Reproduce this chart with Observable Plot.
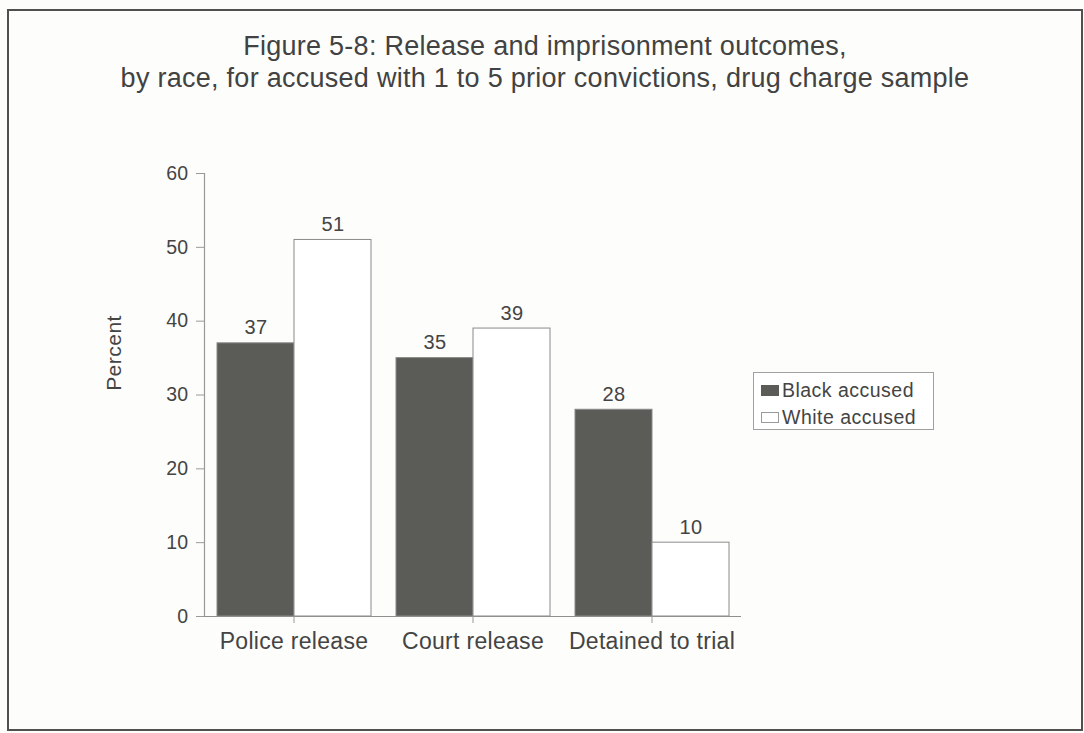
<!DOCTYPE html>
<html>
<head>
<meta charset="utf-8">
<script src="https://cdn.jsdelivr.net/npm/d3@7"></script>
<script src="https://cdn.jsdelivr.net/npm/@observablehq/plot@0.6"></script>
<style>
  html, body { margin: 0; padding: 0; background: #fdfdfb; }
  #wrap { position: relative; width: 1084px; height: 733px; background: #fdfdfb; overflow: hidden;
          font-family: "Liberation Sans", Arial, sans-serif; color: #444; letter-spacing: 0.03em; }
  #border { position: absolute; left: 7px; top: 9px; width: 1076px; height: 722px; box-sizing: border-box;
            border: 2px solid #505050; }
  #title { position: absolute; left: 8px; top: 30px; width: 1074px; text-align: center; font-size: 27px;
           line-height: 32px; color: #424242; letter-spacing: 0.01em; }
  #ylabel { position: absolute; left: 113px; top: 353px; transform: translate(-50%, -50%) rotate(-90deg);
            font-size: 21px; line-height: 1; white-space: nowrap; color: #444; }
  #legend { position: absolute; left: 753px; top: 372px; width: 181px; height: 58px; box-sizing: border-box;
            border: 1px solid #a0a0a0; background: #fff; font-size: 19.5px; color: #444; }
  .item { position: absolute; left: 7px; height: 22px; display: flex; align-items: center; white-space: nowrap; }
  .sw { width: 18px; height: 11px; box-sizing: border-box; margin-right: 3px; }
  #chart { position: absolute; left: 0; top: 100px; }
</style>
</head>
<body>
<div id="wrap">
  <div id="border"></div>
  <div id="title">Figure 5-8: Release and imprisonment outcomes,<br>by race, for accused with 1 to 5 prior convictions, drug charge sample</div>
  <div id="ylabel">Percent</div>
  <div id="chart"></div>
  <div id="legend"></div>
</div>
<script>
const categories = ["Police release", "Court release", "Detained to trial"];
const races = ["Black accused", "White accused"];
const blackValues = [37, 35, 28];
const whiteValues = [51, 39, 10];
const yTicks = [0, 10, 20, 30, 40, 50, 60];
const raceColors = ["#5b5b57", "#ffffff"];

const data = [];
categories.forEach((c, i) => {
  data.push({category: c, race: races[0], value: blackValues[i]});
  data.push({category: c, race: races[1], value: whiteValues[i]});
});

const chart = Plot.plot({
  width: 1084,
  height: 600,
  marginTop: 73,
  marginBottom: 84,
  marginLeft: 204,
  marginRight: 343,
  style: {background: "transparent", fontFamily: "'Liberation Sans', Arial, sans-serif", color: "#444", letterSpacing: "0.03em"},
  fx: {domain: categories, padding: 0, axis: null, label: null},
  x: {domain: races, paddingInner: 0, paddingOuter: 0.155, axis: null},
  y: {domain: [0, 60], axis: null},
  color: {domain: races, range: raceColors},
  marks: [
    Plot.barY(data, {fx: "category", x: "race", y: "value", fill: "race", stroke: "#8a8a8a", strokeWidth: 1}),
    Plot.ruleY([0], {stroke: "#8f8f8f", strokeWidth: 1.2}),
    Plot.text(data, {fx: "category", x: "race", y: "value", text: d => String(d.value), dy: -9, lineAnchor: "bottom", fontSize: 20, fill: "#444"}),
    Plot.axisY({ticks: yTicks, tickSize: 8, tickPadding: 8, fontSize: 19.5, label: null, stroke: "#999", fill: "#444"}),
    Plot.axisFx({anchor: "bottom", tickSize: 7, tickPadding: 9, fontSize: 23, label: null, stroke: "#999", fill: "#444"})
  ]
});
document.getElementById("chart").appendChild(chart);

// y axis line drawn from the plot's own y scale
const ys = chart.scale("y");
d3.select(chart).append("line")
  .attr("x1", 204.5).attr("x2", 204.5)
  .attr("y1", ys.apply(0)).attr("y2", ys.apply(60))
  .attr("stroke", "#999").attr("stroke-width", 1.2);

// legend
const legend = d3.select("#legend");
races.forEach((r, i) => {
  const item = legend.append("div").attr("class", "item").style("top", (i === 0 ? 6 : 33) + "px");
  item.append("div").attr("class", "sw")
    .style("background", raceColors[i])
    .style("border", i === 0 ? "none" : "1px solid #9a9a9a");
  item.append("span").text(r);
});
</script>
</body>
</html>
